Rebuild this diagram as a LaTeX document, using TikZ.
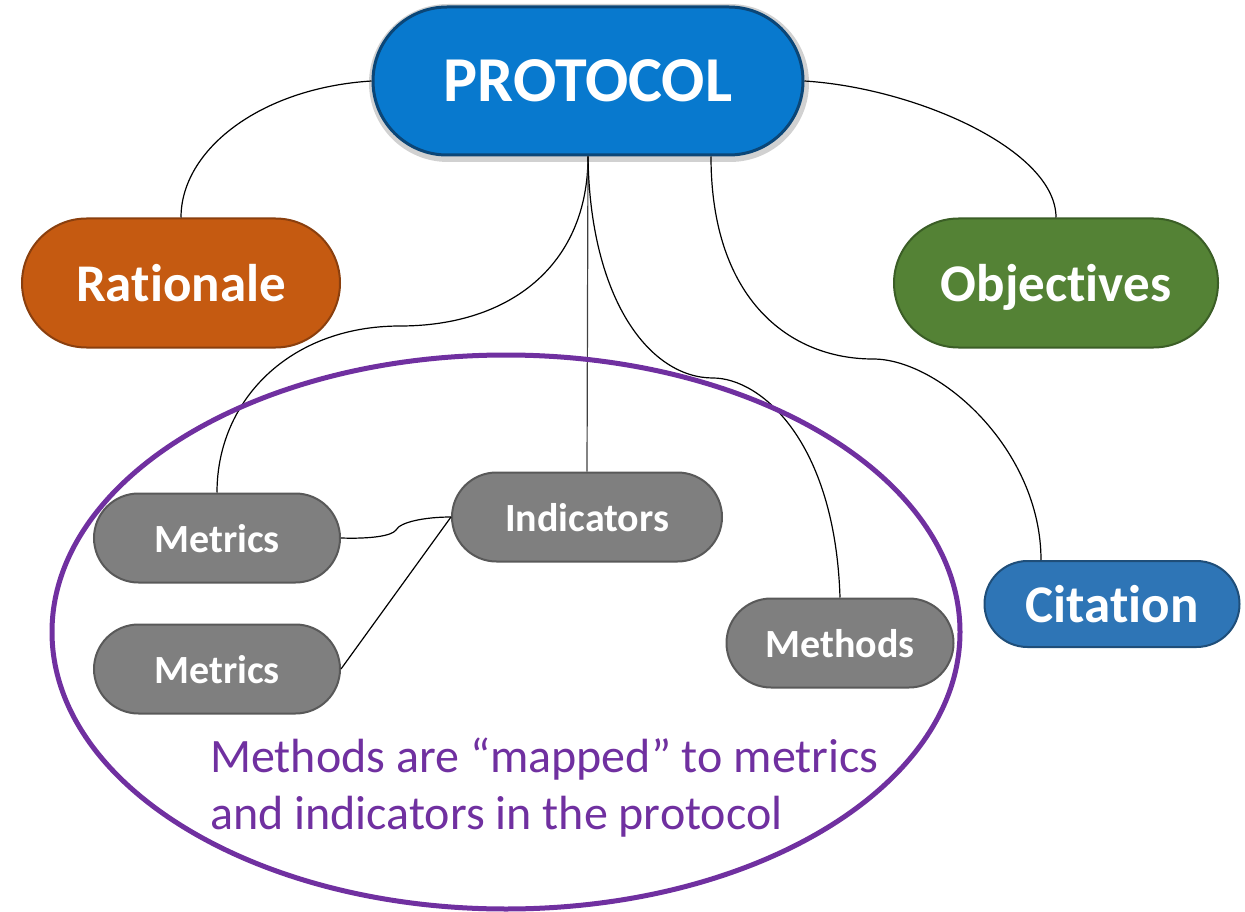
\documentclass[tikz,border=0pt]{standalone}
\usepackage{fontspec}
\setmainfont{Carlito}[Ligatures={NoCommon}]
\usetikzlibrary{shapes.misc,shapes.geometric,calc}
\definecolor{protblue}{HTML}{0879CE}
\definecolor{protdark}{HTML}{0B4677}
\definecolor{ratfill}{HTML}{C55A11}
\definecolor{ratdraw}{HTML}{8A3F0E}
\definecolor{objfill}{HTML}{548235}
\definecolor{objdraw}{HTML}{3B5E26}
\definecolor{citfill}{HTML}{2E75B6}
\definecolor{citdraw}{HTML}{1F4E79}
\definecolor{grayfill}{HTML}{7F7F7F}
\definecolor{graydraw}{HTML}{595959}
\definecolor{purp}{HTML}{7030A0}
\begin{document}
\begin{tikzpicture}[x=1pt,y=-1pt,
  pill/.style={rounded rectangle, inner sep=0pt, text=white, line width=2pt, text depth=0pt},
  bigpill/.style={pill, font={\fontsize{53}{60}\selectfont\bfseries}},
  smallpill/.style={pill, fill=grayfill, draw=graydraw, minimum width=246pt, minimum height=89pt, font={\fontsize{40}{46}\selectfont\bfseries}},
  conn/.style={black, line width=1.2pt},
  notetext/.style={anchor=base west, inner sep=0pt, text=purp, font={\fontsize{48}{58}\selectfont}}]
\useasboundingbox (0,0) rectangle (1245,912);

% nodes
\node[pill, fill=black, opacity=0.18, minimum width=440pt, minimum height=158pt] (protshadow) at (589,83) {};
\node[pill, fill=protblue, draw=protdark, line width=3pt, minimum width=430pt, minimum height=148pt,
      font={\fontsize{64}{70}\selectfont\bfseries}] (prot) at (588,81) {PROTOCOL};
\node[bigpill, fill=ratfill, draw=ratdraw, minimum width=318pt, minimum height=129pt] (rat) at (181,283) {Rationale};
\node[bigpill, fill=objfill, draw=objdraw, minimum width=324pt, minimum height=129pt] (obj) at (1056,283) {Objectives};
\node[bigpill, fill=citfill, draw=citdraw, minimum width=255pt, minimum height=86pt] (cit) at (1112,604) {Citation};
\node[smallpill] (m1) at (217,538) {Metrics};
\node[smallpill] (m2) at (217,669) {Metrics};
\node[smallpill, minimum width=270pt] (ind) at (587,517) {Indicators};
\node[smallpill, minimum width=227pt] (meth) at (840,643) {Methods};

% connectors
\coordinate (ps1) at ($(prot.south)+(123,0)$);
\coordinate (ct) at ($(cit.north)+(-71,0)$);
\draw[conn] (prot.west) .. controls (260,88) and (181,150) .. (rat.north);
\draw[conn] (prot.east) .. controls (916,88) and (1056,150) .. (obj.north);
\draw[conn] (prot.south) .. controls (588,265) and (510,326) .. (400,326)
            .. controls (290,326) and (217,400) .. (m1.north);
\draw[conn, black!75] (prot.south) -- (ind.north);
\draw[conn] (prot.south) .. controls (590,300) and (650,378) .. (713,378)
            .. controls (760,378) and (835,440) .. (meth.north);
\draw[conn] (ps1) .. controls (711,300) and (790,359) .. (873,359)
            .. controls (940,359) and (1041,450) .. (ct);
\draw[conn] (m1.east) .. controls (370,539) and (392,536) .. (396,530)
            .. controls (400,522) and (425,517) .. (ind.west);
\draw[conn] (m2.east) -- (ind.west);

% ellipse
\node[ellipse, draw=purp, line width=5pt, inner sep=0pt, minimum width=908pt, minimum height=554pt] (ell) at (506,632) {};

% note
\node[notetext] (note1) at (210,772) {Methods are “mapped” to metrics};
\node[notetext] (note2) at (210,829) {and indicators in the protocol};
\end{tikzpicture}
\end{document}
